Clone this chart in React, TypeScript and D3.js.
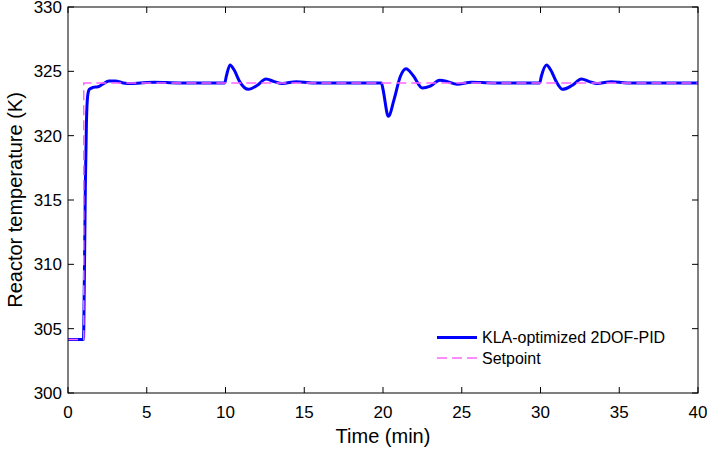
import { useRef, useEffect } from "react";
import * as d3 from "d3";

// Setpoint trajectory (min, K)
const setpointT = [0, 1, 1, 40];
const setpointY = [304.15, 304.15, 324.1, 324.1];

// Controller response (min, K)
const responseT = [
  0, 0.98, 1.04, 1.1, 1.17, 1.25, 1.35, 1.6, 1.9, 2.2, 2.6, 3.0, 3.5, 4.0, 4.6, 5.5, 7, 9.95,
  10.05, 10.29, 10.55, 10.9, 11.45, 12.0, 12.57, 13.1, 13.6, 14.5, 15.5, 17, 19.9,
  20.0, 20.34, 20.7, 21.1, 21.46, 21.9, 22.5, 23.0, 23.6, 24.1, 24.7, 25.6, 27, 29.95,
  30.05, 30.39, 30.65, 31.0, 31.4, 32.0, 32.6, 33.1, 33.6, 34.5, 35.5, 37, 40,
];
const responseY = [
  304.15, 304.15, 309, 316, 321, 323.1, 323.6, 323.75, 323.8, 324.0, 324.25, 324.25, 324.1, 324.05, 324.1, 324.15, 324.1, 324.1,
  324.6, 325.5, 325.1, 324.2, 323.6, 323.9, 324.4, 324.2, 324.05, 324.2, 324.1, 324.1, 324.1,
  323.6, 321.5, 322.8, 324.6, 325.2, 324.7, 323.7, 323.85, 324.3, 324.2, 324.0, 324.15, 324.1, 324.1,
  324.6, 325.5, 325.1, 324.2, 323.6, 323.9, 324.4, 324.2, 324.05, 324.2, 324.1, 324.1, 324.1,
];

const xTicks = [0, 5, 10, 15, 20, 25, 30, 35, 40];
const yTicks = [300, 305, 310, 315, 320, 325, 330];

const legendLabels = ["KLA-optimized 2DOF-PID", "Setpoint"];

const W = 707;
const H = 449;
const margin = { top: 7, right: 9, bottom: 56, left: 68 };
const font = "Liberation Sans, Arial, sans-serif";
const spColor = "#ff66ff";
const spDash = "10,5";

export default function App() {
  const svgRef = useRef<SVGSVGElement>(null);

  useEffect(() => {
    if (!svgRef.current) return;
    const svg = d3.select(svgRef.current);
    svg.selectAll("*").remove();

    const x = d3.scaleLinear().domain([0, 40]).range([margin.left, W - margin.right]);
    const y = d3.scaleLinear().domain([300, 330]).range([H - margin.bottom, margin.top]);
    const x0 = x.range()[0];
    const x1 = x.range()[1];
    const y0 = y.range()[0];
    const y1 = y.range()[1];

    const tickLen = 6;

    // ticks, inside on all four sides
    const ticks = svg.append("g").attr("stroke", "#000").attr("stroke-width", 1);
    xTicks.forEach((t) => {
      ticks.append("line").attr("x1", x(t)).attr("x2", x(t)).attr("y1", y0).attr("y2", y0 - tickLen);
      ticks.append("line").attr("x1", x(t)).attr("x2", x(t)).attr("y1", y1).attr("y2", y1 + tickLen);
    });
    yTicks.forEach((t) => {
      ticks.append("line").attr("x1", x0).attr("x2", x0 + tickLen).attr("y1", y(t)).attr("y2", y(t));
      ticks.append("line").attr("x1", x1).attr("x2", x1 - tickLen).attr("y1", y(t)).attr("y2", y(t));
    });

    svg
      .append("g")
      .selectAll("text")
      .data(xTicks)
      .join("text")
      .attr("x", (d) => x(d))
      .attr("y", y0 + 25)
      .attr("text-anchor", "middle")
      .attr("font-size", 17)
      .attr("font-family", font)
      .text((d) => d);

    svg
      .append("g")
      .selectAll("text")
      .data(yTicks)
      .join("text")
      .attr("x", x0 - 6)
      .attr("y", (d) => y(d) + 6)
      .attr("text-anchor", "end")
      .attr("font-size", 17)
      .attr("font-family", font)
      .text((d) => d);

    svg
      .append("text")
      .attr("x", (x0 + x1) / 2)
      .attr("y", 443)
      .attr("text-anchor", "middle")
      .attr("font-size", 20)
      .attr("font-family", font)
      .text("Time (min)");

    svg
      .append("text")
      .attr("transform", `translate(22,${(y0 + y1) / 2}) rotate(-90)`)
      .attr("text-anchor", "middle")
      .attr("font-size", 20)
      .attr("font-family", font)
      .text("Reactor temperature (K)");

    // clip
    svg
      .append("defs")
      .append("clipPath")
      .attr("id", "plot-clip")
      .append("rect")
      .attr("x", x0)
      .attr("y", y1)
      .attr("width", x1 - x0)
      .attr("height", y0 - y1);

    const plot = svg.append("g").attr("clip-path", "url(#plot-clip)");

    const respLine = d3
      .line<number>()
      .x((d) => x(responseT[d]))
      .y((d) => y(responseY[d]))
      .curve(d3.curveMonotoneX);

    plot
      .append("path")
      .attr("d", respLine(d3.range(responseT.length)))
      .attr("fill", "none")
      .attr("stroke", "#0000ff")
      .attr("stroke-width", 3);

    const spLine = d3
      .line<number>()
      .x((d) => x(setpointT[d]))
      .y((d) => y(setpointY[d]));

    plot
      .append("path")
      .attr("d", spLine(d3.range(setpointT.length)))
      .attr("fill", "none")
      .attr("stroke", spColor)
      .attr("stroke-width", 1.5)
      .attr("stroke-dasharray", spDash);

    // axes box
    svg
      .append("rect")
      .attr("x", x0)
      .attr("y", y1)
      .attr("width", x1 - x0)
      .attr("height", y0 - y1)
      .attr("fill", "none")
      .attr("stroke", "#000")
      .attr("stroke-width", 1);

    // legend
    const lg = svg.append("g").attr("transform", "translate(437,337.5)");
    lg.append("line").attr("x1", 0).attr("x2", 40).attr("y1", 0).attr("y2", 0)
      .attr("stroke", "#0000ff").attr("stroke-width", 3);
    lg.append("line").attr("x1", 0).attr("x2", 40).attr("y1", 20.5).attr("y2", 20.5)
      .attr("stroke", spColor).attr("stroke-width", 1.5).attr("stroke-dasharray", spDash);
    legendLabels.forEach((l, i) => {
      lg.append("text")
        .attr("x", 45)
        .attr("y", i * 20.5 + 5.5)
        .attr("font-size", 16)
        .attr("font-family", font)
        .text(l);
    });
  }, []);

  return (
    <svg
      ref={svgRef}
      width={W}
      height={H}
      style={{ position: "absolute", left: 0, top: 0, background: "#fff" }}
    />
  );
}
